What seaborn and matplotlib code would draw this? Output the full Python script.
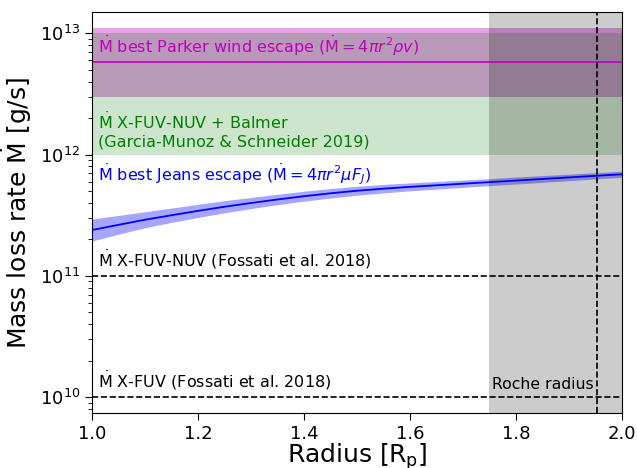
import numpy as np
import pandas as pd
import matplotlib
matplotlib.use("Agg")
import matplotlib.pyplot as plt
import seaborn as sns

# Jeans escape mass loss rate vs radius
radius = [1.0, 1.05, 1.1, 1.15, 1.2, 1.25, 1.3, 1.35, 1.4, 1.45, 1.5,
          1.55, 1.6, 1.65, 1.7, 1.75, 1.8, 1.85, 1.9, 1.95, 2.0]
mdot_jeans = [2.388e11, 2.636e11, 2.904e11, 3.162e11, 3.436e11, 3.715e11, 3.990e11,
              4.266e11, 4.539e11, 4.797e11, 5.035e11, 5.236e11, 5.420e11, 5.585e11,
              5.754e11, 5.929e11, 6.109e11, 6.295e11, 6.486e11, 6.683e11, 6.887e11]
mdot_jeans_lo = [1.936e11, 2.208e11, 2.495e11, 2.761e11, 3.034e11, 3.311e11, 3.589e11,
                 3.864e11, 4.130e11, 4.385e11, 4.624e11, 4.831e11, 5.023e11, 5.200e11,
                 5.370e11, 5.546e11, 5.715e11, 5.902e11, 6.095e11, 6.295e11, 6.501e11]
mdot_jeans_hi = [2.944e11, 3.148e11, 3.381e11, 3.622e11, 3.890e11, 4.169e11, 4.436e11,
                 4.710e11, 4.989e11, 5.248e11, 5.483e11, 5.675e11, 5.848e11, 5.998e11,
                 6.166e11, 6.339e11, 6.531e11, 6.714e11, 6.902e11, 7.096e11, 7.295e11]

# Parker wind range and best value
parker_range = [3.0e12, 1.1e13]
parker_best = 5.8e12
# Garcia-Munoz & Schneider 2019 range
gms_range = [1.0e12, 1.0e13]
# Fossati et al. 2018 values
fossati_fuv_nuv = 1.0e11
fossati_fuv = 1.0e10

roche_zone = [1.75, 2.0]
roche_radius = 1.953

sns.set_style("ticks")
plt.rcParams['font.family'] = ['DejaVu Sans']
plt.rcParams['mathtext.fontset'] = 'dejavusans'
for key in ['text.color', 'axes.labelcolor', 'xtick.color', 'ytick.color', 'axes.edgecolor']:
    plt.rcParams[key] = 'black'

fig = plt.figure(figsize=(6.37, 4.68), dpi=100)
ax = fig.add_axes([0.1444, 0.1175, 0.8320, 0.8569])
ax.set_yscale('log')

# Bands (Parker first, then the Garcia-Munoz range on top)
ax.axhspan(parker_range[0], parker_range[1], color='m', alpha=0.37, lw=0)
ax.axhspan(gms_range[0], gms_range[1], color='g', alpha=0.2, lw=0)
ax.axhline(parker_best, color='m', lw=1.2)

# Jeans escape
df = pd.DataFrame({'radius': radius, 'mdot': mdot_jeans})
ax.fill_between(radius, mdot_jeans_lo, mdot_jeans_hi, color='b', alpha=0.35, lw=0)
sns.lineplot(data=df, x='radius', y='mdot', color='b', lw=1.3, ax=ax)

# Fossati lines
ax.axhline(fossati_fuv_nuv, color='k', ls='--', lw=1.2)
ax.axhline(fossati_fuv, color='k', ls='--', lw=1.2)

# Roche zone
ax.axvspan(roche_zone[0], roche_zone[1], color='k', alpha=0.2, lw=0)
ax.axvline(roche_radius, color='k', ls='--', lw=1.2)

# Labels
fs = 11.5
x0 = 1.011
ax.text(x0, 6.3e12, r'$\dot{\rm M}$ best Parker wind escape ($\dot{\rm M} = 4\pi r^2 \rho v$)',
        color='m', fontsize=fs, va='bottom')
ax.text(x0, 1.1e12, r'$\dot{\rm M}$ X-FUV-NUV + Balmer' + '\n(Garcia-Munoz & Schneider 2019)',
        color='g', fontsize=fs, va='bottom')
ax.text(x0, 6.9e11, r'$\dot{\rm M}$ best Jeans escape ($\dot{\rm M} = 4\pi r^2 \mu F_J$)',
        color='b', fontsize=fs, va='center')
ax.text(x0, 1.1e11, r'$\dot{\rm M}$ X-FUV-NUV (Fossati et al. 2018)',
        color='k', fontsize=fs, va='bottom')
ax.text(x0, 1.1e10, r'$\dot{\rm M}$ X-FUV (Fossati et al. 2018)',
        color='k', fontsize=fs, va='bottom')
ax.text(1.946, 1.1e10, 'Roche radius', color='k', fontsize=11.3, ha='right', va='bottom')

ax.set_xlim(1.0, 2.0)
ax.set_ylim(7.4e9, 1.5e13)
ax.set_xticks([1.0, 1.2, 1.4, 1.6, 1.8, 2.0])
ax.tick_params(axis='both', which='major', labelsize=13, length=5)
ax.tick_params(axis='y', which='minor', length=3)
ax.set_xlabel(r'Radius [R$_{\rm p}$]', fontsize=18, labelpad=-1)
ax.set_ylabel(r'Mass loss rate $\dot{\rm M}$ [g/s]', fontsize=18, labelpad=4)

fig.savefig('out.png', dpi=100)
